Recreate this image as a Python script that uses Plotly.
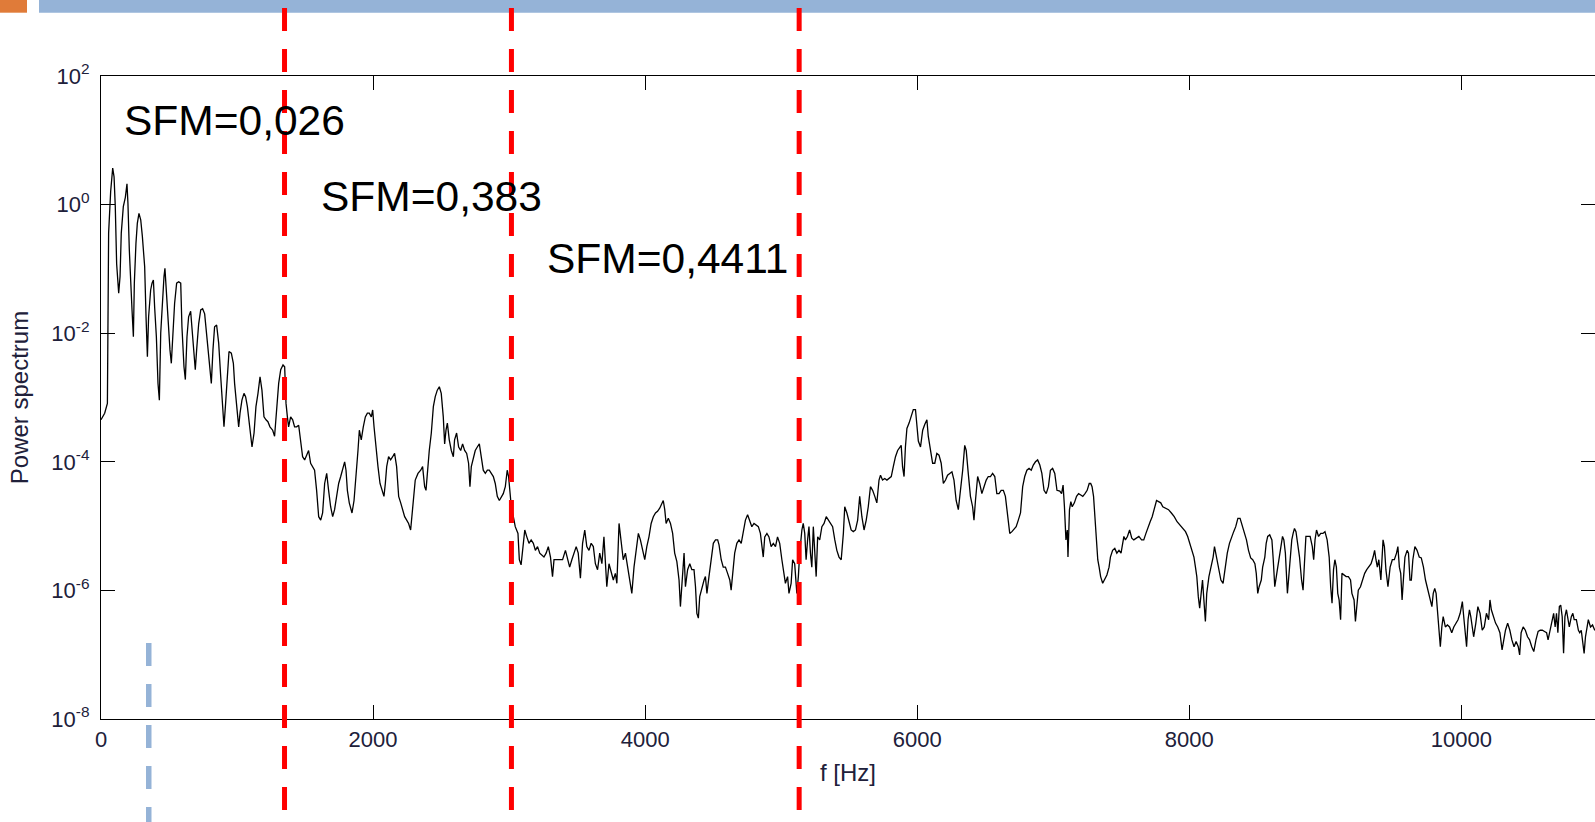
import plotly.graph_objects as go

# ---------------- data ----------------
freq_band1 = [
    0, 27, 47, 56, 71, 86, 96, 105, 115, 130,
    140, 149, 164, 179, 191, 198, 208, 218, 228, 238,
    245, 257, 267, 279, 292, 304, 321, 331, 341, 350,
    365, 375, 385, 394, 407, 419, 429, 439, 451, 463,
    470, 480, 492, 507, 517, 529, 541, 556, 571, 586,
    595, 610, 620, 632, 644, 659, 669, 679, 693, 703,
    718, 733, 747, 762, 777, 786, 796, 811, 823, 835,
    850, 865, 880, 894, 904, 916, 929, 941, 958, 973,
    982, 997, 1012, 1022, 1036, 1051, 1063, 1076, 1085, 1095,
    1110, 1125, 1139, 1154, 1169, 1183, 1198, 1213, 1227, 1242,
    1262, 1276, 1291, 1306, 1321, 1338, 1350, 1360, 1370, 1379,
    1394, 1409, 1423, 1438, 1453, 1468, 1482, 1497, 1512, 1526,
    1541, 1556, 1570, 1585, 1600, 1615, 1629, 1644, 1659, 1673,
    1688, 1703, 1717, 1732, 1747, 1762, 1776, 1791, 1801, 1811,
    1825, 1845, 1860, 1874, 1889, 1899, 1913, 1928, 1943, 1958,
    1972, 1987, 1997, 2007, 2021, 2036, 2051, 2065, 2080, 2090,
    2100, 2114, 2129, 2144, 2158, 2173, 2188, 2203, 2217, 2232,
    2247, 2261, 2276, 2286, 2296, 2310, 2330, 2350, 2364, 2379,
    2389, 2399, 2413, 2428, 2443, 2457, 2472, 2487, 2501, 2516,
    2526, 2536, 2546, 2560, 2575, 2590, 2599, 2614, 2629, 2644,
    2658, 2673, 2688, 2702, 2712, 2722, 2737, 2751, 2766, 2781,
    2795, 2810, 2825, 2840, 2854, 2869, 2884, 2898, 2913, 2928,
    2942, 2957, 2972, 2986, 2996, 3006, 3016, 3031, 3045, 3065,
]
power_band1 = [
    4.5e-4, 5.7e-4, 8.1e-4, 0.36, 1.6, 3.7, 2.7, 0.93, 0.12, 0.042,
    0.076, 0.36, 0.93, 1.3, 2.1, 1.05, 0.20, 0.047, 0.023, 0.0088,
    0.060, 0.25, 0.51, 0.73, 0.58, 0.32, 0.108, 0.018, 0.0043, 0.018,
    0.047, 0.060, 0.067, 0.026, 0.0088, 0.00166, 0.00091, 0.0100, 0.033, 0.076,
    0.102, 0.047, 0.014, 0.0055, 0.0034, 0.0088, 0.029, 0.060, 0.063, 0.060,
    0.0126, 0.0030, 0.0019, 0.0088, 0.018, 0.022, 0.0126, 0.0070, 0.0027, 0.0055,
    0.014, 0.023, 0.024, 0.020, 0.0088, 0.0055, 0.0030, 0.00166, 0.0055, 0.0126,
    0.0134, 0.0070, 0.0021, 0.00064, 0.00035, 0.00081, 0.0021, 0.0052, 0.0049, 0.0034,
    0.00166, 0.00081, 0.00035, 0.00057, 0.00091, 0.00116, 0.00103, 0.00072, 0.00050, 0.00028,
    0.00017, 0.00028, 0.00072, 0.00116, 0.0021, 0.0013, 0.00050, 0.00045, 0.00042, 0.00035,
    0.00031, 0.00025, 0.00064, 0.00166, 0.0027, 0.0032, 0.0030, 0.00081, 0.00050, 0.00035,
    0.00050, 0.00045, 0.00035, 0.00035, 0.00037, 0.00022, 0.00012, 0.000107, 0.000128, 0.00015,
    9.5e-5, 8.4e-5, 7.4e-5, 3.6e-5, 1.4e-5, 1.24e-5, 1.6e-5, 4.6e-5, 6.6e-5, 3.6e-5,
    2.0e-5, 1.4e-5, 1.8e-5, 2.9e-5, 4.6e-5, 5.9e-5, 7.4e-5, 1.0e-4, 7.4e-5, 3.6e-5,
    2.3e-5, 1.6e-5, 2.5e-5, 5.2e-5, 1.5e-4, 3.1e-4, 2.2e-4, 3.5e-4, 5.0e-4, 5.7e-4,
    5.7e-4, 5.0e-4, 6.4e-4, 3.5e-4, 1.5e-4, 8.4e-5, 4.6e-5, 3.6e-5, 2.9e-5, 4.6e-5,
    8.4e-5, 1.2e-4, 1.07e-4, 1.2e-4, 1.35e-4, 8.4e-5, 2.9e-5, 2.3e-5, 1.8e-5, 1.4e-5,
    1.24e-5, 1.1e-5, 8.7e-6, 1.6e-5, 2.9e-5, 5.2e-5, 6.6e-5, 7.4e-5, 8.4e-5, 4.1e-5,
    3.6e-5, 7.4e-5, 1.5e-4, 2.8e-4, 7.2e-4, 1.03e-3, 1.3e-3, 1.47e-3, 1.16e-3, 5.0e-4,
    1.9e-4, 3.1e-4, 4.0e-4, 2.2e-4, 1.5e-4, 1.2e-4, 2.2e-4, 2.8e-4, 1.7e-4, 1.5e-4,
    1.9e-4, 1.5e-4, 1.35e-4, 9.5e-5, 4.1e-5, 8.4e-5, 1.2e-4, 1.5e-4, 1.7e-4, 1.9e-4,
    1.2e-4, 7.4e-5, 6.6e-5, 7.4e-5, 7.4e-5, 6.6e-5, 5.9e-5, 4.6e-5, 2.9e-5, 2.5e-5,
    2.9e-5, 3.2e-5, 4.1e-5, 7.4e-5, 5.9e-5, 2.9e-5, 2.0e-5, 1.4e-5, 9.8e-6, 7.7e-6,
]

freq_band2 = [
    3075, 3088, 3104, 3115, 3130, 3146, 3162, 3178, 3193, 3209,
    3225, 3241, 3256, 3272, 3288, 3304, 3319, 3330, 3351, 3372,
    3393, 3414, 3430, 3445, 3461, 3477, 3493, 3508, 3524, 3540,
    3556, 3571, 3587, 3603, 3619, 3634, 3650, 3666, 3682, 3697,
    3708, 3718, 3734, 3750, 3766, 3781, 3792, 3808, 3823, 3839,
    3855, 3871, 3887, 3902, 3918, 3934, 3950, 3965, 3981, 3997,
    4012, 4028, 4044, 4060, 4076, 4091, 4107, 4123, 4133, 4144,
    4154, 4170, 4186, 4202, 4217, 4233, 4249, 4259, 4275, 4286,
    4296, 4312, 4328, 4343, 4359, 4370, 4380, 4391, 4401, 4417,
    4433, 4443, 4454, 4469, 4485, 4501, 4517, 4533, 4543, 4559,
    4574, 4590, 4606, 4622, 4632, 4643, 4658, 4674, 4690, 4706,
    4721, 4737, 4753, 4769, 4784, 4800, 4816, 4832, 4847, 4858,
    4868, 4879, 4895, 4910, 4926, 4942, 4958, 4973, 4989, 5005,
    5021, 5031, 5047, 5057, 5073, 5084, 5099, 5115, 5126, 5136,
]
power_band2 = [
    3.0e-6, 2.5e-6, 6.1e-6, 8.7e-6, 6.8e-6, 5.4e-6, 6.1e-6, 5.4e-6, 4.2e-6, 4.8e-6,
    3.8e-6, 3.5e-6, 3.3e-6, 3.8e-6, 4.8e-6, 3.3e-6, 1.64e-6, 3.0e-6, 3.0e-6, 3.0e-6,
    3.0e-6, 4.2e-6, 3.0e-6, 2.3e-6, 3.0e-6, 3.8e-6, 4.8e-6, 3.8e-6, 1.55e-6, 5.4e-6,
    8.7e-6, 4.8e-6, 4.2e-6, 5.4e-6, 4.8e-6, 2.6e-6, 2.1e-6, 3.8e-6, 2.6e-6, 6.8e-6,
    2.3e-6, 1.14e-6, 2.6e-6, 1.84e-6, 1.45e-6, 1.84e-6, 1.29e-6, 1.1e-5, 6.1e-6, 3.0e-6,
    3.8e-6, 2.3e-6, 1.64e-6, 9.0e-7, 2.3e-6, 4.2e-6, 7.7e-6, 6.1e-6, 4.2e-6, 3.0e-6,
    4.8e-6, 6.8e-6, 1.1e-5, 1.4e-5, 1.6e-5, 1.7e-5, 1.9e-5, 2.3e-5, 2.5e-5, 1.8e-5,
    1.1e-5, 1.32e-5, 1.1e-5, 7.7e-6, 3.8e-6, 2.8e-6, 1.45e-6, 5.6e-7, 1.84e-6, 3.8e-6,
    1.14e-6, 2.1e-6, 2.6e-6, 2.1e-6, 2.1e-6, 1.14e-6, 4.4e-7, 3.7e-7, 8.0e-7, 1.14e-6,
    1.45e-6, 1.64e-6, 9.0e-7, 1.64e-6, 3.3e-6, 5.4e-6, 6.1e-6, 6.1e-6, 5.1e-6, 3.0e-6,
    2.3e-6, 2.3e-6, 1.84e-6, 1.45e-6, 1.01e-6, 1.84e-6, 3.8e-6, 5.4e-6, 6.1e-6, 5.4e-6,
    8.7e-6, 1.24e-5, 1.5e-5, 1.24e-5, 9.8e-6, 1.1e-5, 1.04e-5, 9.8e-6, 7.7e-6, 4.8e-6,
    3.3e-6, 6.8e-6, 7.7e-6, 6.8e-6, 4.8e-6, 5.4e-6, 4.8e-6, 6.8e-6, 5.4e-6, 3.0e-6,
    1.84e-6, 1.29e-6, 1.64e-6, 9.0e-7, 1.29e-6, 3.0e-6, 2.6e-6, 9.0e-7, 1.64e-6, 3.8e-6,
]

freq_band3 = [
    5152, 5162, 5173, 5183, 5194, 5204, 5215, 5225, 5236, 5246,
    5257, 5268, 5283, 5299, 5315, 5331, 5346, 5362, 5378, 5394,
    5409, 5425, 5441, 5457, 5467, 5483, 5499, 5514, 5530, 5546,
    5562, 5577, 5593, 5609, 5625, 5640, 5656, 5672, 5688, 5703,
    5719, 5730, 5745, 5761, 5777, 5793, 5809, 5824, 5840, 5856,
    5871, 5882, 5892, 5903, 5913, 5924, 5940, 5955, 5971, 5987,
    5997, 6008, 6024, 6040, 6055, 6071, 6081, 6097, 6113, 6129,
    6144, 6160, 6176, 6192, 6208, 6223, 6239, 6255, 6270, 6286,
    6302, 6318, 6334, 6349, 6360, 6375, 6391, 6407, 6417, 6428,
    6444, 6459, 6475, 6491, 6507, 6522, 6538, 6554, 6570, 6585,
    6601, 6617, 6633, 6648, 6664, 6680, 6696, 6712, 6727, 6743,
    6759, 6775, 6790, 6806, 6822, 6838, 6853, 6869, 6885, 6901,
    6916, 6932, 6948, 6964, 6979, 6995, 7011, 7027, 7048,
]
power_band3 = [
    8.7e-6, 1.1e-5, 7.7e-6, 3.0e-6, 6.1e-6, 9.8e-6, 3.8e-6, 2.3e-6, 9.8e-6, 4.2e-6,
    1.64e-6, 6.8e-6, 6.1e-6, 9.8e-6, 1.1e-5, 1.4e-5, 1.24e-5, 1.1e-5, 9.8e-6, 6.1e-6,
    4.2e-6, 3.3e-6, 3.0e-6, 7.7e-6, 2.0e-5, 1.6e-5, 1.1e-5, 8.7e-6, 8.2e-6, 8.7e-6,
    1.24e-5, 2.9e-5, 1.4e-5, 8.7e-6, 1.24e-5, 2.0e-5, 4.1e-5, 3.6e-5, 2.9e-5, 2.3e-5,
    5.2e-5, 6.2e-5, 5.2e-5, 5.5e-5, 5.2e-5, 5.5e-5, 5.9e-5, 8.4e-5, 1.2e-4, 1.5e-4,
    1.7e-4, 1.8e-4, 8.4e-5, 5.9e-5, 1.7e-4, 3.3e-4, 4.0e-4, 5.1e-4, 6.5e-4, 6.5e-4,
    4.0e-4, 2.1e-4, 1.7e-4, 3.1e-4, 3.8e-4, 4.5e-4, 2.5e-4, 1.42e-4, 9.5e-5, 9.5e-5,
    1.35e-4, 1.27e-4, 9.5e-5, 4.6e-5, 5.2e-5, 6.2e-5, 6.6e-5, 7.0e-5, 5.2e-5, 2.5e-5,
    1.8e-5, 3.6e-5, 7.4e-5, 1.8e-4, 1.5e-4, 6.6e-5, 2.9e-5, 2.0e-5, 1.24e-5, 2.5e-5,
    5.9e-5, 4.6e-5, 3.2e-5, 4.1e-5, 5.2e-5, 5.9e-5, 5.9e-5, 6.6e-5, 5.9e-5, 3.2e-5,
    3.2e-5, 3.6e-5, 3.6e-5, 2.9e-5, 1.6e-5, 7.7e-6, 8.2e-6, 9.2e-6, 9.8e-6, 1.24e-5,
    1.6e-5, 4.1e-5, 5.9e-5, 7.4e-5, 7.9e-5, 7.4e-5, 8.9e-5, 1.0e-4, 1.07e-4, 8.9e-5,
    6.6e-5, 3.6e-5, 3.2e-5, 4.1e-5, 7.4e-5, 7.9e-5, 6.6e-5, 3.6e-5, 3.5e-5,
]

freq_band4 = [
    7061, 7072, 7082, 7093, 7103, 7108, 7119, 7129, 7139, 7155,
    7171, 7186, 7202, 7217, 7233, 7249, 7264, 7275, 7285, 7296,
    7306, 7316, 7327, 7337, 7348, 7363, 7379, 7394, 7410, 7420,
    7436, 7452, 7467, 7483, 7498, 7509, 7519, 7530, 7545, 7561,
    7577, 7592, 7608, 7629, 7649, 7665, 7681, 7696, 7712, 7727,
    7743, 7759, 7774, 7790, 7805, 7826, 7847, 7868, 7889, 7910,
    7930, 7951, 7972, 7988, 8003, 8019, 8034, 8045, 8055, 8066,
    8076, 8087, 8097, 8107, 8118, 8128, 8144, 8159, 8175, 8185,
    8201, 8217, 8232, 8248, 8263, 8279, 8295, 8310, 8326, 8341,
    8357, 8373, 8388, 8404, 8420, 8435, 8451, 8466, 8482, 8492,
    8503, 8513, 8529, 8539, 8555, 8565, 8576, 8591, 8607, 8617,
    8628, 8643, 8659, 8669, 8685, 8695, 8706, 8721, 8737, 8753,
    8763, 8773, 8784, 8794, 8810, 8825, 8836, 8846, 8857, 8872,
    8888, 8904, 8914, 8924, 8935, 8950, 8966, 8982, 8997, 9013,
]
power_band4 = [
    3.2e-5, 4.35e-5, 2.0e-5, 6.1e-6, 8.7e-6, 3.3e-6, 1.8e-5, 2.4e-5, 2.0e-5, 2.3e-5,
    2.9e-5, 3.2e-5, 3.05e-5, 2.9e-5, 3.2e-5, 3.6e-5, 4.6e-5, 4.6e-5, 4.1e-5, 2.9e-5,
    1.4e-5, 6.1e-6, 3.0e-6, 2.3e-6, 1.64e-6, 1.29e-6, 1.54e-6, 1.74e-6, 2.3e-6, 3.3e-6,
    4.2e-6, 4.5e-6, 3.8e-6, 4.2e-6, 3.8e-6, 5.4e-6, 6.9e-6, 6.1e-6, 6.9e-6, 8.7e-6,
    6.5e-6, 6.1e-6, 6.5e-6, 6.9e-6, 6.1e-6, 6.1e-6, 7.7e-6, 9.8e-6, 1.17e-5, 1.4e-5,
    1.9e-5, 2.5e-5, 2.4e-5, 2.3e-5, 2.0e-5, 1.9e-5, 1.8e-5, 1.6e-5, 1.4e-5, 1.17e-5,
    1.04e-5, 9.2e-6, 8.2e-6, 6.9e-6, 5.4e-6, 4.2e-6, 3.3e-6, 2.3e-6, 1.64e-6, 8.0e-7,
    5.3e-7, 9.0e-7, 1.45e-6, 7.1e-7, 3.3e-7, 9.0e-7, 1.64e-6, 2.3e-6, 3.3e-6, 4.8e-6,
    3.3e-6, 2.1e-6, 1.45e-6, 1.29e-6, 2.3e-6, 3.8e-6, 5.4e-6, 6.9e-6, 8.2e-6, 9.8e-6,
    1.32e-5, 1.32e-5, 1.04e-5, 7.7e-6, 6.1e-6, 4.2e-6, 3.2e-6, 3.0e-6, 2.6e-6, 1.84e-6,
    9.0e-7, 1.14e-6, 1.45e-6, 2.3e-6, 3.3e-6, 5.4e-6, 6.9e-6, 7.3e-6, 6.1e-6, 3.0e-6,
    1.14e-6, 1.84e-6, 3.0e-6, 4.8e-6, 6.9e-6, 6.1e-6, 3.8e-6, 9.0e-7, 2.3e-6, 6.1e-6,
    7.7e-6, 9.2e-6, 8.2e-6, 6.1e-6, 3.3e-6, 1.45e-6, 1.01e-6, 2.6e-6, 6.9e-6, 6.9e-6,
    6.9e-6, 4.8e-6, 3.0e-6, 6.1e-6, 8.7e-6, 6.9e-6, 7.7e-6, 7.7e-6, 8.2e-6, 6.1e-6,
]

freq_band5 = [
    9028, 9039, 9049, 9060, 9070, 9081, 9091, 9101, 9112, 9122,
    9138, 9153, 9169, 9185, 9195, 9211, 9221, 9232, 9242, 9258,
    9273, 9289, 9304, 9320, 9336, 9351, 9362, 9372, 9382, 9393,
    9408, 9424, 9434, 9445, 9460, 9476, 9492, 9507, 9523, 9533,
    9544, 9554, 9564, 9575, 9585, 9601, 9611, 9622, 9632, 9643,
    9658, 9674, 9690, 9705, 9721, 9736, 9752, 9767, 9783, 9793,
    9804, 9814, 9825, 9835, 9845, 9856, 9866, 9882, 9897, 9913,
    9929, 9944, 9960, 9975, 9991, 10007, 10017, 10028, 10038, 10049,
    10059, 10069, 10080, 10090, 10106, 10121, 10137, 10153, 10168, 10184,
    10200, 10210, 10220, 10236, 10251, 10267, 10283, 10299, 10309, 10324,
    10340, 10356, 10371, 10387, 10402, 10418, 10428, 10439, 10454, 10470,
    10486, 10501, 10517, 10532, 10548, 10564, 10579, 10595, 10611, 10626,
    10637, 10647, 10657, 10668, 10678, 10689, 10699, 10709, 10720, 10730,
    10741, 10751, 10761, 10772, 10782, 10793, 10808, 10819, 10829, 10845,
    10860, 10870, 10881, 10891, 10902, 10912, 10923, 10933, 10949, 10964,
    10980, 11020,
]
power_band5 = [
    3.3e-6, 1.14e-6, 6.3e-7, 2.1e-6, 3.0e-6, 2.3e-6, 9.0e-7, 7.1e-7, 3.5e-7, 1.84e-6,
    1.74e-6, 1.64e-6, 1.64e-6, 1.45e-6, 9.0e-7, 7.1e-7, 3.3e-7, 6.3e-7, 1.01e-6, 1.14e-6,
    1.45e-6, 1.84e-6, 2.1e-6, 2.3e-6, 2.6e-6, 3.3e-6, 4.2e-6, 3.0e-6, 2.3e-6, 3.0e-6,
    1.45e-6, 6.1e-6, 4.8e-6, 2.1e-6, 1.14e-6, 2.3e-6, 3.0e-6, 3.0e-6, 3.8e-6, 4.8e-6,
    2.3e-6, 1.84e-6, 7.1e-7, 1.64e-6, 3.3e-6, 4.2e-6, 3.8e-6, 1.45e-6, 1.45e-6, 3.0e-6,
    4.8e-6, 4.2e-6, 3.3e-6, 3.2e-6, 2.3e-6, 1.45e-6, 1.01e-6, 7.1e-7, 5.6e-7, 9.0e-7,
    1.07e-6, 9.0e-7, 4.4e-7, 1.9e-7, 1.33e-7, 2.7e-7, 3.9e-7, 2.7e-7, 2.9e-7, 2.7e-7,
    2.2e-7, 2.7e-7, 3.1e-7, 3.5e-7, 4.4e-7, 6.7e-7, 3.9e-7, 2.4e-7, 1.33e-7, 3.5e-7,
    5.0e-7, 3.9e-7, 2.4e-7, 1.9e-7, 3.1e-7, 5.6e-7, 4.4e-7, 2.4e-7, 2.7e-7, 4.4e-7,
    3.5e-7, 7.1e-7, 5.0e-7, 3.9e-7, 3.1e-7, 2.7e-7, 2.2e-7, 1.19e-7, 1.7e-7, 2.4e-7,
    3.1e-7, 2.4e-7, 1.7e-7, 1.33e-7, 1.6e-7, 1.33e-7, 9.9e-8, 2.2e-7, 2.7e-7, 2.4e-7,
    1.9e-7, 1.7e-7, 1.33e-7, 1.12e-7, 1.7e-7, 2.3e-7, 2.4e-7, 2.4e-7, 2.3e-7, 2.2e-7,
    1.7e-7, 2.2e-7, 2.7e-7, 3.9e-7, 4.4e-7, 2.7e-7, 4.4e-7, 2.2e-7, 5.6e-7, 5.9e-7,
    3.9e-7, 1.05e-7, 3.9e-7, 5.0e-7, 3.5e-7, 2.7e-7, 3.9e-7, 4.4e-7, 3.5e-7, 3.5e-7,
    2.4e-7, 2.2e-7, 2.4e-7, 1.5e-7, 1.05e-7, 1.9e-7, 2.7e-7, 3.5e-7, 2.7e-7, 2.9e-7,
    2.4e-7, 3.1e-7,
]

x_ticks = [0, 2000, 4000, 6000, 8000, 10000]
x_ticktext = ["0", "2000", "4000", "6000", "8000", "10000"]
y_ticks = [1e-8, 1e-6, 1e-4, 1e-2, 1e0, 1e2]
y_ticktext = ["10<sup>-8</sup>", "10<sup>-6</sup>", "10<sup>-4</sup>",
              "10<sup>-2</sup>", "10<sup>0</sup>", "10<sup>2</sup>"]

band_edges_hz = [1349, 3017, 5132]          # red dashed separators
marker_hz = [351]                            # light blue dashed marker
sfm_labels = ["SFM=0,026", "SFM=0,383", "SFM=0,4411"]

freq_hz = freq_band1 + freq_band2 + freq_band3 + freq_band4 + freq_band5
power = power_band1 + power_band2 + power_band3 + power_band4 + power_band5

# ---------------- figure ----------------
FONT = "Arial, 'Liberation Sans', Helvetica, sans-serif"
W, H = 1595, 822
ML, MR, MT, MB = 101, 0, 76, 103
PW, PH = W - ML - MR, H - MT - MB
X_MAX = 10982


def px_to_paper_x(px):
    return (px - ML) / PW


def px_to_paper_y(py):
    return (H - MB - py) / PH


fig = go.Figure()
fig.add_trace(go.Scatter(
    x=freq_hz, y=power, mode="lines",
    line=dict(color="black", width=1.3),
    showlegend=False, hoverinfo="x+y",
))
# invisible companion trace so the right-hand tick axis is laid out
fig.add_trace(go.Scatter(
    x=freq_hz, y=power, mode="lines", yaxis="y2",
    line=dict(color="rgba(0,0,0,0)", width=0),
    showlegend=False, hoverinfo="skip",
))

axis_common = dict(
    showgrid=False, zeroline=False, showline=True,
    linecolor="black", linewidth=1.3,
    ticks="inside", ticklen=14, tickwidth=1.3, tickcolor="black",
    tickfont=dict(family=FONT, size=22, color="#20203a"),
)

fig.update_layout(
    width=W, height=H,
    margin=dict(l=ML, r=MR, t=MT, b=MB, autoexpand=False),
    paper_bgcolor="white", plot_bgcolor="white",
    font=dict(family=FONT, color="black"),
    xaxis=dict(
        **axis_common,
        range=[0, X_MAX], mirror="ticks",
        tickmode="array", tickvals=x_ticks, ticktext=x_ticktext,
        ticklabelstandoff=0,
        title=dict(text="f [Hz]", font=dict(family=FONT, size=24, color="#20203a"),
                   standoff=13),
        automargin=False,
    ),
    yaxis=dict(
        **axis_common,
        type="log", range=[-8, 2],
        tickmode="array", tickvals=y_ticks, ticktext=y_ticktext,
        ticklabelstandoff=6,
        title=dict(text="Power spectrum", font=dict(family=FONT, size=24, color="#20203a"),
                   standoff=15),
        automargin=False,
    ),
    yaxis2=dict(
        overlaying="y", side="right", anchor="x",
        type="log", range=[-8, 2],
        tickmode="array", tickvals=y_ticks,
        showticklabels=False, showgrid=False, zeroline=False, showline=False,
        ticks="inside", ticklen=14, tickwidth=1.3, tickcolor="black",
        automargin=False,
    ),
)

shapes = []
# slide decoration: orange square and blue band along the top
shapes.append(dict(type="rect", xref="paper", yref="paper",
                   x0=px_to_paper_x(-2), x1=px_to_paper_x(27),
                   y0=px_to_paper_y(12.7), y1=px_to_paper_y(-2),
                   fillcolor="#E07B39", line=dict(width=0), layer="above"))
shapes.append(dict(type="rect", xref="paper", yref="paper",
                   x0=px_to_paper_x(39), x1=px_to_paper_x(W + 2),
                   y0=px_to_paper_y(12.7), y1=px_to_paper_y(-2),
                   fillcolor="#95B3D7", line=dict(width=0), layer="above"))
for f in marker_hz:
    shapes.append(dict(type="line", xref="x", yref="paper",
                       x0=f, x1=f, y0=px_to_paper_y(643), y1=px_to_paper_y(H + 20),
                       line=dict(color="#95B3D7", width=5.5, dash="23px,18px"),
                       layer="above"))
for f in band_edges_hz:
    shapes.append(dict(type="line", xref="x", yref="paper",
                       x0=f, x1=f, y0=px_to_paper_y(8), y1=px_to_paper_y(H + 20),
                       line=dict(color="#FF0000", width=5, dash="23px,18px"),
                       layer="above"))
fig.update_layout(shapes=shapes)

label_pos = [(122, 120), (318.7, 196), (545.3, 258.5)]
for text, (lx, ly) in zip(sfm_labels, label_pos):
    fig.add_annotation(
        text=text, xref="paper", yref="paper",
        x=px_to_paper_x(lx), y=px_to_paper_y(ly),
        xanchor="left", yanchor="middle", showarrow=False,
        font=dict(family=FONT, size=42.5, color="black"),
    )

# the page is photographed edge to edge: drop the default body margin
fig.write_html(
    "out.html",
    config={"displayModeBar": False},
    post_script="document.body.style.margin='0px';document.body.style.overflow='hidden';",
)
